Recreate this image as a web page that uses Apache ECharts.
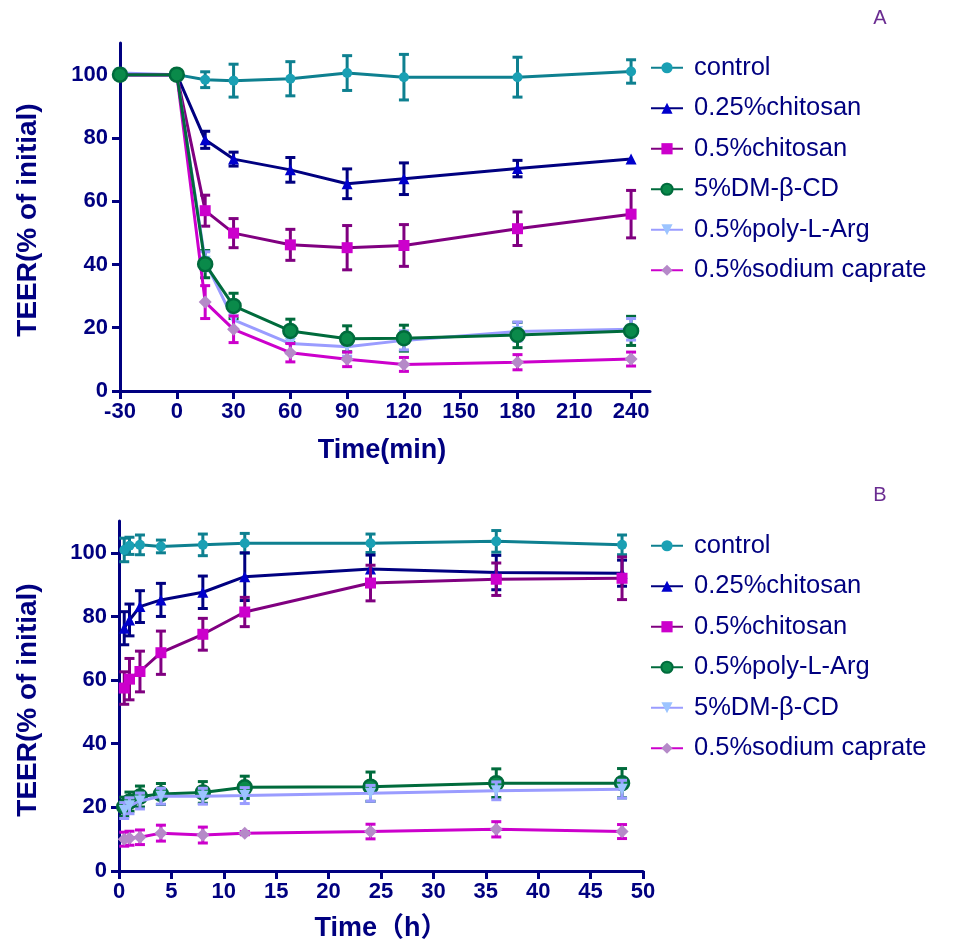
<!DOCTYPE html>
<html>
<head>
<meta charset="utf-8">
<script src="https://cdn.jsdelivr.net/npm/echarts@6/dist/echarts.min.js"></script>
<style>
html,body{margin:0;padding:0;background:#fff;}
#c{width:953px;height:945px;}
</style>
</head>
<body>
<div id="c"></div>
<script>
// ---------- DATA ----------
const LEGEND_A = ['control','0.25%chitosan','0.5%chitosan','5%DM-β-CD','0.5%poly-L-Arg','0.5%sodium caprate'];
const LEGEND_B = ['control','0.25%chitosan','0.5%chitosan','0.5%poly-L-Arg','5%DM-β-CD','0.5%sodium caprate'];

const A_TIME = [-30, 0, 15, 30, 60, 90, 120, 180, 240];
const A_CONTROL      = [100, 100, 98.4, 98.1, 98.7, 100.5, 99.2, 99.2, 101.0];
const A_CONTROL_SD   = [0, 0, 2.5, 5.2, 5.4, 5.5, 7.2, 6.3, 3.7];
const A_CHIT025      = [100, 100, 79.4, 73.3, 69.9, 65.5, 67.1, 70.3, 73.3];
const A_CHIT025_SD   = [0, 0, 2.7, 2.2, 3.9, 4.7, 5.0, 2.6, 0];
const A_CHIT05       = [100, 100, 57.0, 49.9, 46.2, 45.3, 46.0, 51.3, 55.9];
const A_CHIT05_SD    = [0, 0, 4.9, 4.6, 4.9, 7.0, 6.6, 5.3, 7.5];
const A_DMCD         = [100, 100, 40.1, 26.9, 19.0, 16.5, 16.7, 17.7, 19.0];
const A_DMCD_SD      = [0, 0, 4.3, 4.0, 3.7, 4.1, 4.1, 4.0, 4.6];
const A_POLYARG      = [100.5, 100, 41.0, 22.5, 15.0, 14.0, 16.0, 18.8, 19.5];
const A_POLYARG_SD   = [1.0, 0, 3.0, 3.0, 3.0, 3.0, 3.0, 3.0, 3.4];
const A_CAPRATE      = [100, 100, 28.1, 19.5, 12.1, 10.0, 8.4, 9.1, 10.1];
const A_CAPRATE_SD   = [0, 0, 5.2, 4.2, 2.9, 2.3, 2.2, 2.4, 2.2];

const B_TIME = [0.5, 1, 2, 4, 8, 12, 24, 36, 48];
const B_CONTROL      = [100.9, 102.2, 102.5, 102.0, 102.5, 103.0, 103.0, 103.6, 102.5];
const B_CONTROL_SD   = [3.7, 2.7, 3.1, 2.0, 3.4, 3.1, 2.9, 3.4, 3.1];
const B_CHIT025      = [76.3, 78.9, 83.1, 85.2, 87.6, 92.5, 94.9, 93.8, 93.6];
const B_CHIT025_SD   = [5.2, 5.0, 5.0, 5.2, 5.1, 7.5, 4.4, 5.4, 4.1];
const B_CHIT05       = [57.5, 60.3, 62.7, 68.6, 74.4, 81.4, 90.5, 91.7, 92.0];
const B_CHIT05_SD    = [5.1, 6.5, 6.4, 6.8, 5.0, 4.6, 5.6, 5.1, 6.7];
const B_POLYARG      = [20.2, 21.8, 23.4, 24.2, 24.7, 26.3, 26.5, 27.6, 27.6];
const B_POLYARG_SD   = [3.0, 3.0, 3.3, 3.3, 3.4, 3.5, 4.6, 4.5, 4.6];
const B_DMCD         = [19.0, 20.5, 22.0, 23.5, 23.5, 23.7, 24.4, 25.2, 25.7];
const B_DMCD_SD      = [2.5, 2.5, 2.5, 2.5, 2.5, 2.5, 2.5, 2.8, 2.8];
const B_CAPRATE      = [10.0, 10.3, 10.6, 11.9, 11.3, 11.9, 12.4, 13.1, 12.4];
const B_CAPRATE_SD   = [2.2, 2.2, 2.3, 2.5, 2.5, 0.5, 2.3, 2.4, 2.2];

const A_XTICKS = [-30, 0, 30, 60, 90, 120, 150, 180, 210, 240];
const B_XTICKS = [0, 5, 10, 15, 20, 25, 30, 35, 40, 45, 50];
const Y_TICKS = [0, 20, 40, 60, 80, 100];

// ---------- STYLE ----------
const NAVY = '#000080';
const FONT = 'Liberation Sans, Arial, Noto Sans CJK SC, sans-serif';
const STY = [
  {line:'#0e8090', fill:'#1aa0b4', symbol:'circle', size:10},
  {line:'#000080', fill:'#0000cc', symbol:'triangle', size:11},
  {line:'#800080', fill:'#cc00cc', symbol:'rect', size:11},
  {line:'#006b3c', fill:'#0a8a4a', symbol:'circle', size:14, border:'#006b3c'},
  {line:'#9a9cff', fill:'#9cc4ff', symbol:'triangle', size:11, rotate:180},
  {line:'#cc00cc', fill:'#b58ac8', symbol:'diamond', size:13}
];

function errRender(color){
  return function(params, api){
    const x = api.value(0), lo = api.value(1), hi = api.value(2);
    if (hi - lo <= 0) return null;
    const p1 = api.coord([x, lo]), p2 = api.coord([x, hi]);
    const w = 5;
    const st = {stroke: color, lineWidth: 3};
    return {type:'group', children:[
      {type:'line', shape:{x1:p1[0], y1:p1[1], x2:p2[0], y2:p2[1]}, style:st},
      {type:'line', shape:{x1:p1[0]-w, y1:p1[1], x2:p1[0]+w, y2:p1[1]}, style:st},
      {type:'line', shape:{x1:p2[0]-w, y1:p2[1], x2:p2[0]+w, y2:p2[1]}, style:st}
    ]};
  };
}

const series = [];
const legendA = [], legendB = [];
function addPanel(gi, names, times, means, sds, suffix, legendArr){
  means.forEach((m, k) => {
    const s = STY[k];
    const name = names[k] + suffix;
    legendArr.push(name);
    const z = 10 + k * 2;
    series.push({
      type:'custom', xAxisIndex:gi, yAxisIndex:gi, z:z,
      renderItem: errRender(s.line), silent:true,
      data: times.map((t, i) => [t, m[i] - sds[k][i], m[i] + sds[k][i]])
    });
    series.push({
      type:'line', name:name, xAxisIndex:gi, yAxisIndex:gi, z:z+1,
      data: times.map((t, i) => [t, m[i]]),
      symbol: s.symbol, symbolSize: s.size, symbolRotate: s.rotate || 0,
      showAllSymbol:true,
      lineStyle:{color:s.line, width:3},
      itemStyle:{color:s.fill, borderColor: s.border || s.fill, borderWidth: s.border ? 2.5 : 0, opacity:1},
      emphasis:{disabled:true}, animation:false
    });
  });
}

addPanel(0, LEGEND_A, A_TIME,
  [A_CONTROL, A_CHIT025, A_CHIT05, A_DMCD, A_POLYARG, A_CAPRATE],
  [A_CONTROL_SD, A_CHIT025_SD, A_CHIT05_SD, A_DMCD_SD, A_POLYARG_SD, A_CAPRATE_SD], '', legendA);
// panel A: green (DM-β-CD) drawn above the light blue
series.forEach(s => { if (s.xAxisIndex === 0 && s.name === '5%DM-β-CD') s.z = 30; });
addPanel(1, LEGEND_B, B_TIME,
  [B_CONTROL, B_CHIT025, B_CHIT05, B_POLYARG, B_DMCD, B_CAPRATE],
  [B_CONTROL_SD, B_CHIT025_SD, B_CHIT05_SD, B_POLYARG_SD, B_DMCD_SD, B_CAPRATE_SD], '\u200b', legendB);

function xAxis(gi, min, max, ticks){
  return {
    type:'value', gridIndex:gi, min:min, max:max,
    axisLine:{show:true, onZero:false, lineStyle:{color:NAVY, width:3}},
    axisTick:{show:true, length:8, lineStyle:{color:NAVY, width:3}, customValues:ticks},
    axisLabel:{customValues:ticks, color:NAVY, fontWeight:'bold', fontSize:22, fontFamily:FONT, margin:10},
    splitLine:{show:false}
  };
}
function yAxis(gi){
  return {
    type:'value', gridIndex:gi, min:0, max:110,
    axisLine:{show:true, onZero:false, lineStyle:{color:NAVY, width:3}},
    axisTick:{show:true, length:8, lineStyle:{color:NAVY, width:3}, customValues:Y_TICKS},
    axisLabel:{customValues:Y_TICKS, color:NAVY, fontWeight:'bold', fontSize:22, fontFamily:FONT, margin:12},
    splitLine:{show:false}
  };
}
function legend(top, data){
  return {
    orient:'vertical', left:645, top:top, data:data,
    itemWidth:32, itemHeight:14, itemGap:15,
    selectedMode:false,
    formatter: n => n.replace('\u200b',''),
    textStyle:{color:NAVY, fontSize:25.5, fontFamily:FONT, lineHeight:25.5, padding:[0,0,0,6]}
  };
}

const chart = echarts.init(document.getElementById('c'), null, {renderer:'canvas'});
chart.setOption({
  backgroundColor:'#fff',
  animation:false,
  grid:[
    {left:120, top:43, width:530, height:348},
    {left:119, top:521, width:524, height:350}
  ],
  xAxis:[xAxis(0, -30, 250, A_XTICKS), xAxis(1, 0, 50, B_XTICKS)],
  yAxis:[yAxis(0), yAxis(1)],
  legend:[legend(50, legendA), legend(528, legendB)],
  graphic:[
    {type:'text', x:382, y:451, style:{text:'Time(min)', fill:NAVY, font:'bold 27px '+FONT, textAlign:'center', textVerticalAlign:'middle'}},
    {type:'text', x:381, y:929, style:{text:'Time（h）', fill:NAVY, font:'bold 27px '+FONT, textAlign:'center', textVerticalAlign:'middle'}},
    {type:'text', x:28, y:220, rotation:Math.PI/2, style:{text:'TEER(% of initial)', fill:NAVY, font:'bold 28px '+FONT, textAlign:'center', textVerticalAlign:'middle'}},
    {type:'text', x:28, y:700, rotation:Math.PI/2, style:{text:'TEER(% of initial)', fill:NAVY, font:'bold 28px '+FONT, textAlign:'center', textVerticalAlign:'middle'}},
    {type:'text', x:880, y:18, style:{text:'A', fill:'#6a2c91', font:'20px '+FONT, textAlign:'center', textVerticalAlign:'middle'}},
    {type:'text', x:880, y:495, style:{text:'B', fill:'#6a2c91', font:'20px '+FONT, textAlign:'center', textVerticalAlign:'middle'}}
  ],
  series: series
});
</script>
</body>
</html>
